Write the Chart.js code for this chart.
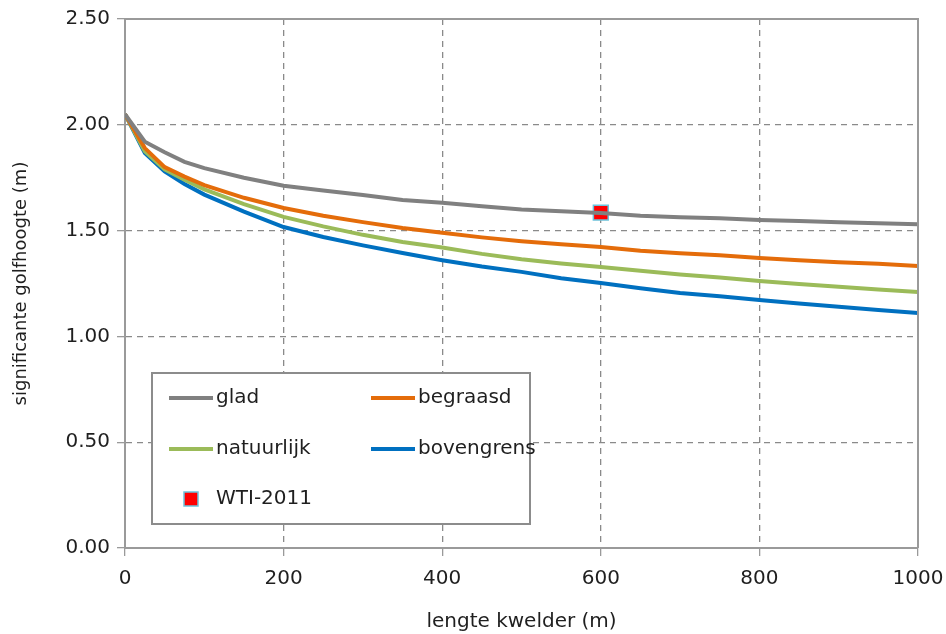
<!DOCTYPE html>
<html>
<head>
<meta charset="utf-8">
<script src="https://cdn.jsdelivr.net/npm/chart.js@4.4.1/dist/chart.umd.min.js"></script>
<style>
  html, body { margin: 0; padding: 0; background: #fff; }
  #wrap { width: 946px; height: 634px; }
</style>
</head>
<body>
<div id="wrap"><canvas id="golfChart" width="946" height="634"></canvas></div>
<script>
// lengte kwelder (m)
var afstand = [0, 25, 50, 75, 100, 150, 200, 250, 300, 350, 400, 450, 500, 550, 600, 650, 700, 750, 800, 850, 900, 950, 1000];
// significante golfhoogte (m) per vegetatietype
var glad       = [2.05, 1.92, 1.87, 1.825, 1.795, 1.75, 1.712, 1.69, 1.668, 1.645, 1.632, 1.615, 1.600, 1.592, 1.583, 1.570, 1.563, 1.558, 1.550, 1.545, 1.540, 1.535, 1.530];
var begraasd   = [2.05, 1.89, 1.80, 1.755, 1.715, 1.655, 1.607, 1.570, 1.540, 1.512, 1.490, 1.468, 1.450, 1.435, 1.423, 1.405, 1.393, 1.383, 1.370, 1.360, 1.350, 1.343, 1.333];
var natuurlijk = [2.05, 1.875, 1.79, 1.740, 1.695, 1.625, 1.565, 1.520, 1.480, 1.446, 1.420, 1.390, 1.365, 1.345, 1.328, 1.310, 1.293, 1.278, 1.262, 1.248, 1.235, 1.222, 1.210];
var bovengrens = [2.05, 1.867, 1.78, 1.720, 1.670, 1.590, 1.517, 1.470, 1.430, 1.394, 1.360, 1.330, 1.305, 1.275, 1.252, 1.228, 1.205, 1.190, 1.172, 1.155, 1.140, 1.125, 1.110];
// WTI-2011 punt
var wtiX = [600];
var wtiY = [1.585];
var xTicks = [0, 200, 400, 600, 800, 1000];
var yTicks = [0, 0.5, 1.0, 1.5, 2.0, 2.5];

var fontFam = "'DejaVu Sans', sans-serif";
var textColor = '#1f1f1f';

function punten(xs, ys){
	var res = [];
	for(var i=0;i<xs.length;i++){
		res.push({x: xs[i], y: ys[i]});
	}
	return res;
}

function lijn(label, data, kleur){
	return {
		label: label,
		data: punten(afstand, data),
		borderColor: kleur,
		backgroundColor: kleur,
		borderWidth: 4,
		pointRadius: 0,
		tension: 0,
		fill: false
	};
}

// kader om plotgebied + legenda in de grafiek
var kaderPlugin = {
	id: 'kader',
	afterDatasetsDraw: function(chart){
		var ctx = chart.ctx, a = chart.chartArea;
		ctx.save();
		ctx.strokeStyle = '#9a9a9a';
		ctx.lineWidth = 2;
		ctx.beginPath();
		ctx.moveTo(a.left, a.top);
		ctx.lineTo(a.right, a.top);
		ctx.lineTo(a.right, a.bottom);
		ctx.stroke();
		ctx.restore();
	},
	afterDraw: function(chart){
		var ctx = chart.ctx;
		var ds = chart.data.datasets;
		ctx.save();
		// legendakader
		ctx.fillStyle = '#fff';
		ctx.fillRect(152, 373, 378, 151);
		ctx.strokeStyle = '#8c8c8c';
		ctx.lineWidth = 2;
		ctx.strokeRect(152, 373, 378, 151);
		ctx.font = '20px ' + fontFam;
		ctx.textBaseline = 'middle';
		ctx.fillStyle = textColor;
		var items = [
			{ds: ds[0], x: 169, y: 398},
			{ds: ds[1], x: 371, y: 398},
			{ds: ds[2], x: 169, y: 449},
			{ds: ds[3], x: 371, y: 449}
		];
		for(var i=0;i<items.length;i++){
			var it = items[i];
			ctx.strokeStyle = it.ds.borderColor;
			ctx.lineWidth = 4;
			ctx.beginPath();
			ctx.moveTo(it.x, it.y);
			ctx.lineTo(it.x + 44, it.y);
			ctx.stroke();
			ctx.fillStyle = textColor;
			ctx.fillText(it.ds.label, it.x + 47, it.y);
		}
		// marker WTI
		var w = ds[4];
		ctx.fillStyle = w.backgroundColor;
		ctx.fillRect(184, 492, 14, 14);
		ctx.strokeStyle = w.borderColor;
		ctx.lineWidth = 1.5;
		ctx.strokeRect(184, 492, 14, 14);
		ctx.fillStyle = textColor;
		ctx.fillText(w.label, 216, 499);
		ctx.restore();
	}
};

var ctx = document.getElementById('golfChart').getContext('2d');
var golfChart = new Chart(ctx, {
	type: 'line',
	data: {
		datasets: [
			lijn('glad', glad, '#808080'),
			lijn('begraasd', begraasd, '#e46c0a'),
			lijn('natuurlijk', natuurlijk, '#9bbb59'),
			lijn('bovengrens', bovengrens, '#0070c0'),
			{
				label: 'WTI-2011',
				type: 'scatter',
				data: punten(wtiX, wtiY),
				pointStyle: 'rect',
				pointRadius: 10.5,
				backgroundColor: '#ff0000',
				borderColor: '#6cc4dc',
				borderWidth: 1.5
			}
		]
	},
	plugins: [kaderPlugin],
	options: {
		responsive: false,
		animation: false,
		layout: { padding: { left: 0, right: 28, top: 19, bottom: 0 } },
		plugins: {
			legend: { display: false },
			tooltip: { enabled: false }
		},
		scales: {
			x: {
				type: 'linear',
				min: 0,
				max: 1000,
				afterBuildTicks: function(s){ s.ticks = xTicks.map(function(v){ return {value: v}; }); },
				afterFit: function(s){ s.height = 86; s.paddingLeft = 0; s.paddingRight = 0; },
				border: { display: true, color: '#9a9a9a', width: 2, dash: [6, 5] },
				grid: { color: '#8a8a8a', lineWidth: 1.3, tickLength: 8, tickColor: '#9a9a9a', tickBorderDash: [] },
				ticks: {
					color: textColor,
					font: { family: fontFam, size: 20 },
					padding: 11,
					maxRotation: 0,
					callback: function(v){ return String(v); }
				},
				title: { display: true, text: 'lengte kwelder (m)', color: textColor, font: { family: fontFam, size: 20 }, padding: { top: 0, bottom: 0 } }
			},
			y: {
				min: 0,
				max: 2.5,
				afterBuildTicks: function(s){ s.ticks = yTicks.map(function(v){ return {value: v}; }); },
				afterFit: function(s){ s.width = 125; s.paddingTop = 0; s.paddingBottom = 0; },
				border: { display: true, color: '#9a9a9a', width: 2, dash: [6, 5] },
				grid: { color: '#8a8a8a', lineWidth: 1.3, tickLength: 8, tickColor: '#9a9a9a', tickBorderDash: [] },
				ticks: {
					color: textColor,
					font: { family: fontFam, size: 20 },
					padding: 7,
					callback: function(v){ return Number(v).toFixed(2); }
				},
				title: { display: true, text: 'significante golfhoogte (m)', color: textColor, font: { family: fontFam, size: 18 }, padding: { top: 11, bottom: 0 } }
			}
		}
	}
});
</script>
</body>
</html>
